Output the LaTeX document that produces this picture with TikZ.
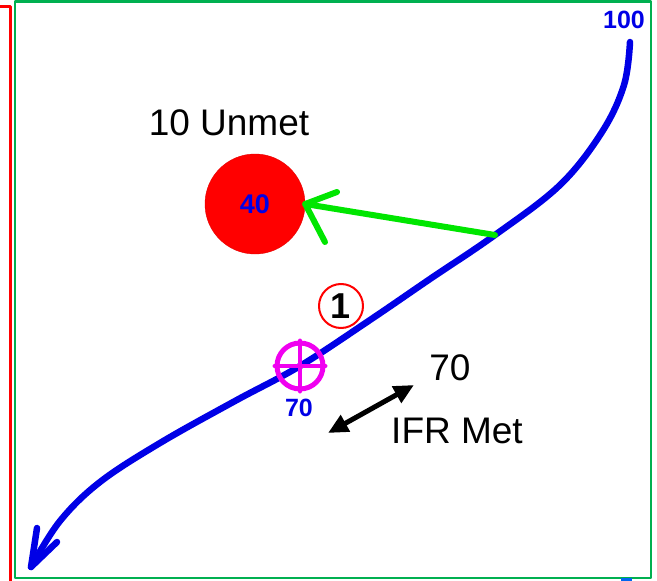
\documentclass[tikz,border=0pt]{standalone}
\usepackage{fontspec}
\setmainfont{Liberation Sans}
\usetikzlibrary{arrows.meta}
\definecolor{frameGreen}{RGB}{0,176,80}
\definecolor{trackBlue}{RGB}{0,0,230}
\definecolor{arrowGreen}{RGB}{0,230,0}
\definecolor{fixMagenta}{RGB}{240,0,240}
\begin{document}
\begin{tikzpicture}[
    x=1pt, y=-1pt,
    line cap=round, line join=round,
    big label/.style={font=\fontsize{37}{40}\selectfont, inner sep=0pt},
    small label/.style={font=\bfseries\fontsize{25}{26}\selectfont, text=trackBlue, inner sep=0pt}
  ]
    \useasboundingbox (0,0) rectangle (657,581);

    % 1. Frames
    \draw[red, line width=3pt] (0,6) -- (10,6) -- (10,581);
    \draw[frameGreen, line width=2.5pt] (15,1.5) rectangle (651,578);
    \fill[trackBlue!60!cyan] (621,578) rectangle (632,581);

    % 2. Coordinates
    \coordinate (Top) at (630,42);
    \coordinate (Branch) at (495,235);
    \coordinate (Fix) at (300,366);
    \coordinate (Tip) at (31,567);
    \coordinate (BarbA) at (37,528);
    \coordinate (BarbB) at (57,542);
    \coordinate (HoldA) at (328,433);
    \coordinate (HoldB) at (414,385);

    % 3. Blue track
    \draw[trackBlue, line width=6.5pt] plot[smooth, tension=0.6] coordinates {
        (Top) (624,85) (602,132) (560,185) (Branch) (430,279) (370,320)
        (Fix) (235,401) (160,443) (100,482) (60,521) (Tip)};
    \draw[trackBlue, line width=6.5pt] (BarbA) -- (Tip) -- (BarbB);
    \node[small label] (hundred) at (624,20) {100};

    % 4. Red circle and green arrow
    \node[circle, fill=red, draw=red!90!black, minimum size=100pt, inner sep=0pt] (unmet) at (255,204) {};
    \node[small label, font=\bfseries\fontsize{27}{28}\selectfont] (forty) at (unmet) {40};
    \node[big label] (unmetText) at (229,123) {10 Unmet};
    \draw[arrowGreen, line width=6pt] (Branch) -- (unmet.east);
    \draw[arrowGreen, line width=6pt] (337,192) -- (unmet.east) -- (325,242);

    % 5. Fix symbol
    \node[circle, draw=fixMagenta, line width=5pt, minimum size=46pt, inner sep=0pt] (fixSym) at (Fix) {};
    \draw[fixMagenta, line width=4pt] (fixSym.north) -- (fixSym.south);
    \draw[fixMagenta, line width=4pt] (fixSym.west) -- (fixSym.east);
    \node[small label] (seventy) at (299,408) {70};

    % 6. Circled number
    \node[circle, draw=red, line width=2pt, minimum size=44pt, inner sep=0pt,
          font=\bfseries\fontsize{36}{36}\selectfont] (one) at (341,306) {1};

    % 7. Hold arrow and texts
    \draw[{Triangle[length=20pt,width=18pt]}-{Triangle[length=20pt,width=18pt]}, line width=5pt] (HoldA) -- (HoldB);
    \node[big label] (altText) at (450,368) {70};
    \node[big label] (ifrText) at (457,431) {IFR Met};

\end{tikzpicture}
\end{document}
